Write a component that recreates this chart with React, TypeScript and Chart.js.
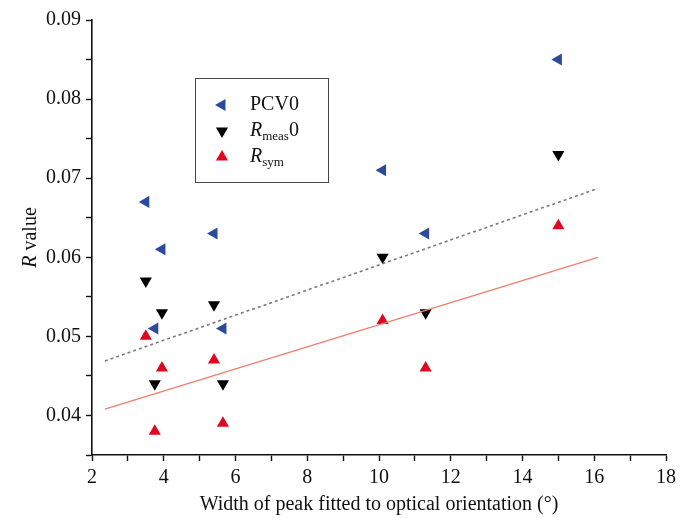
import React, { useEffect, useRef } from "react";
import { Chart, registerables } from "chart.js";

Chart.register(...registerables);

const widths = [3.5, 3.75, 3.95, 5.4, 5.65, 10.1, 11.3, 15.0];
const pcv0 = [0.067, 0.051, 0.061, 0.063, 0.051, 0.071, 0.063, 0.085];
const rmeas0 = [0.057, 0.044, 0.053, 0.054, 0.044, 0.06, 0.053, 0.073];
const rsym = [0.05, 0.038, 0.046, 0.047, 0.039, 0.052, 0.046, 0.064];
const fitX = [2.36, 16.1];
const rmeasFit = [0.0469, 0.0687];
const rsymFit = [0.0408, 0.06];
const xTickLabels = ["2", "4", "6", "8", "10", "12", "14", "16", "18"];
const yTickLabels = ["0.04", "0.05", "0.06", "0.07", "0.08", "0.09"];

const BLUE = "#2b4a9c";
const BLACK = "#000000";
const RED = "#e0061f";
const TEXT = "#111";
const SERIF = "'Liberation Serif', 'DejaVu Serif', serif";

function tri(ctx: CanvasRenderingContext2D, x: number, y: number, r: number, rotDeg: number, color: string) {
  let rad = (rotDeg * Math.PI) / 180;
  ctx.beginPath();
  ctx.moveTo(x + Math.sin(rad) * r, y - Math.cos(rad) * r);
  rad += (2 * Math.PI) / 3;
  ctx.lineTo(x + Math.sin(rad) * r, y - Math.cos(rad) * r);
  rad += (2 * Math.PI) / 3;
  ctx.lineTo(x + Math.sin(rad) * r, y - Math.cos(rad) * r);
  ctx.closePath();
  ctx.fillStyle = color;
  ctx.fill();
}

const decorPlugin = {
  id: "decor",
  afterDraw(chart: any) {
    const ctx: CanvasRenderingContext2D = chart.ctx;
    const area = chart.chartArea;
    ctx.save();
    // legend box
    ctx.strokeStyle = "#444";
    ctx.lineWidth = 1;
    ctx.strokeRect(195.5, 78.5, 133, 104);
    ctx.textBaseline = "middle";
    ctx.textAlign = "left";
    const mx = 222;
    const tx = 250;
    // PCV0
    tri(ctx, mx, 105, 7, -90, BLUE);
    ctx.fillStyle = TEXT;
    ctx.font = `20px ${SERIF}`;
    ctx.fillText("PCV0", tx, 105);
    // Rmeas0
    tri(ctx, mx, 131, 7, 180, BLACK);
    ctx.fillStyle = TEXT;
    ctx.font = `italic 20px ${SERIF}`;
    ctx.fillText("R", tx, 131);
    let w = ctx.measureText("R").width;
    ctx.font = `13px ${SERIF}`;
    ctx.fillText("meas", tx + w, 137);
    w += ctx.measureText("meas").width;
    ctx.font = `20px ${SERIF}`;
    ctx.fillText("0", tx + w, 131);
    // Rsym
    tri(ctx, mx, 157, 7, 0, RED);
    ctx.fillStyle = TEXT;
    ctx.font = `italic 20px ${SERIF}`;
    ctx.fillText("R", tx, 157);
    w = ctx.measureText("R").width;
    ctx.font = `13px ${SERIF}`;
    ctx.fillText("sym", tx + w, 163);

    // y title
    ctx.save();
    ctx.translate(31, (area.top + area.bottom) / 2);
    ctx.rotate(-Math.PI / 2);
    ctx.font = `italic 20px ${SERIF}`;
    const rW = ctx.measureText("R").width;
    ctx.font = `20px ${SERIF}`;
    const vW = ctx.measureText(" value").width;
    const start = -(rW + vW) / 2;
    ctx.fillStyle = TEXT;
    ctx.font = `italic 20px ${SERIF}`;
    ctx.fillText("R", start, 0);
    ctx.font = `20px ${SERIF}`;
    ctx.fillText(" value", start + rW, 0);
    ctx.restore();

    // x title
    ctx.textAlign = "center";
    ctx.font = `20px ${SERIF}`;
    ctx.fillStyle = TEXT;
    ctx.fillText("Width of peak fitted to optical orientation (\u00b0)", (area.left + area.right) / 2, 505);
    ctx.restore();
  },
};

export default function App() {
  const ref = useRef<HTMLCanvasElement | null>(null);
  useEffect(() => {
    document.body.style.margin = "0";
    const canvas = ref.current;
    if (!canvas) return;
    const pts = (ys: number[]) => widths.map((x, i) => ({ x, y: ys[i] }));
    const chart = new Chart(canvas, {
      type: "scatter",
      data: {
        datasets: [
          {
            label: "Rmeas fit",
            type: "line",
            data: fitX.map((x, i) => ({ x, y: rmeasFit[i] })),
            borderColor: "#7a7a7a",
            borderWidth: 1.6,
            borderDash: [3, 3],
            pointRadius: 0,
            fill: false,
          } as any,
          {
            label: "Rsym fit",
            type: "line",
            data: fitX.map((x, i) => ({ x, y: rsymFit[i] })),
            borderColor: "#f07e70",
            borderWidth: 1.3,
            pointRadius: 0,
            fill: false,
          } as any,
          {
            label: "PCV0",
            data: pts(pcv0),
            pointStyle: "triangle",
            rotation: -90,
            pointRadius: 7,
            backgroundColor: BLUE,
            borderColor: BLUE,
            borderWidth: 0,
          },
          {
            label: "Rmeas0",
            data: pts(rmeas0),
            pointStyle: "triangle",
            rotation: 180,
            pointRadius: 7,
            backgroundColor: BLACK,
            borderColor: BLACK,
            borderWidth: 0,
          },
          {
            label: "Rsym",
            data: pts(rsym),
            pointStyle: "triangle",
            rotation: 0,
            pointRadius: 7,
            backgroundColor: RED,
            borderColor: RED,
            borderWidth: 0,
          },
        ],
      },
      options: {
        responsive: false,
        animation: false,
        devicePixelRatio: 1,
        layout: { padding: { left: 0, right: 11, top: 20, bottom: 0 } },
        plugins: { legend: { display: false }, tooltip: { enabled: false } },
        scales: {
          x: {
            type: "linear",
            min: 2,
            max: 18,
            afterFit: (s: any) => {
              s.height = 63;
            },
            border: { display: true, color: "#111", width: 1.6 },
            grid: { drawOnChartArea: false, drawTicks: true, tickLength: 6, color: "#111", tickWidth: 1.4 },
            ticks: {
              stepSize: 1,
              autoSkip: false,
              maxRotation: 0,
              padding: 5,
              color: TEXT,
              font: { family: SERIF, size: 20 },
              callback: (v: any) => {
                const s = String(Math.round(Number(v)));
                return Math.abs(Number(v) - Math.round(Number(v))) < 1e-6 && xTickLabels.includes(s) ? s : "";
              },
            },
          },
          y: {
            type: "linear",
            min: 0.035,
            max: 0.09,
            afterFit: (s: any) => {
              s.width = 92;
            },
            border: { display: true, color: "#111", width: 1.6 },
            grid: { drawOnChartArea: false, drawTicks: true, tickLength: 6, color: "#111", tickWidth: 1.4 },
            ticks: {
              stepSize: 0.005,
              autoSkip: false,
              padding: 5,
              color: TEXT,
              font: { family: SERIF, size: 20 },
              callback: (v: any) => {
                const s = Number(v).toFixed(3);
                const lab = Number(v).toFixed(2);
                return s.endsWith("0") && yTickLabels.includes(lab) ? lab : "";
              },
            },
          },
        },
      },
      plugins: [decorPlugin],
    });
    return () => chart.destroy();
  }, []);
  return (
    <div style={{ width: 681, height: 518, background: "#fff" }}>
      <canvas ref={ref} width={681} height={518} style={{ display: "block" }} />
    </div>
  );
}
